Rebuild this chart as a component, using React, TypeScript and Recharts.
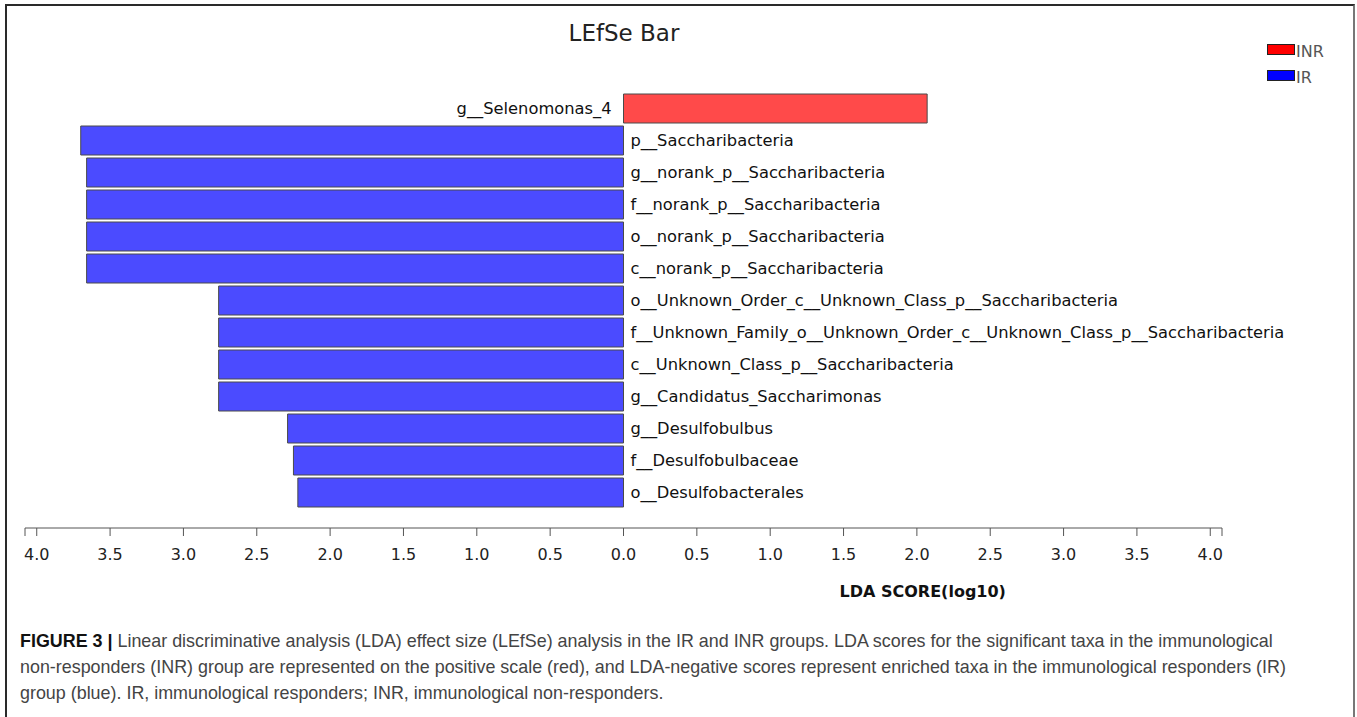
import React from "react";
import { BarChart, Bar, XAxis, YAxis, Cell, LabelList } from "recharts";

// taxa, top to bottom
const taxa = [
  "g__Selenomonas_4",
  "p__Saccharibacteria",
  "g__norank_p__Saccharibacteria",
  "f__norank_p__Saccharibacteria",
  "o__norank_p__Saccharibacteria",
  "c__norank_p__Saccharibacteria",
  "o__Unknown_Order_c__Unknown_Class_p__Saccharibacteria",
  "f__Unknown_Family_o__Unknown_Order_c__Unknown_Class_p__Saccharibacteria",
  "c__Unknown_Class_p__Saccharibacteria",
  "g__Candidatus_Saccharimonas",
  "g__Desulfobulbus",
  "f__Desulfobulbaceae",
  "o__Desulfobacterales",
];

// LDA score (log10); IR-enriched taxa are negative
const ldaScores = [2.07, -3.7, -3.66, -3.66, -3.66, -3.66, -2.76, -2.76, -2.76, -2.76, -2.29, -2.25, -2.22];

const tickValues = [-4, -3.5, -3, -2.5, -2, -1.5, -1, -0.5, 0, 0.5, 1, 1.5, 2, 2.5, 3, 3.5, 4];
const axisEnd = 4.08;

const groups = [
  { name: "INR", color: "#ff0000" },
  { name: "IR", color: "#0000ff" },
];

const barColors = { INR: "#ff4a4a", IR: "#4b4bff" };

const captionLines = [
  "Linear discriminative analysis (LDA) effect size (LEfSe) analysis in the IR and INR groups. LDA scores for the significant taxa in the immunological",
  "non-responders (INR) group are represented on the positive scale (red), and LDA-negative scores represent enriched taxa in the immunological responders (IR)",
  "group (blue). IR, immunological responders; INR, immunological non-responders.",
];

const data = taxa.map((name, i) => ({ name, lda: ldaScores[i] }));

const FONT = "'DejaVu Sans', sans-serif";

const TaxonLabel = (props: any) => {
  const { x, y, width, height, index } = props;
  const v = ldaScores[index];
  const zero = v < 0 ? Math.max(x, x + width) : Math.min(x, x + width);
  const neg = v < 0;
  return (
    <text
      x={neg ? zero + 7 : zero - 12}
      y={y + height / 2}
      textAnchor={neg ? "start" : "end"}
      dominantBaseline="central"
      fontFamily={FONT}
      fontSize={16.3}
      fill="#111"
    >
      {taxa[index]}
    </text>
  );
};

const AxisTitle = (props: any) => {
  const { x, y, width } = props.viewBox;
  return (
    <text
      x={x + width * 0.75}
      y={y + 63}
      textAnchor="middle"
      dominantBaseline="central"
      fontFamily={FONT}
      fontSize={16}
      fontWeight="bold"
      fill="#111"
    >
      LDA SCORE(log10)
    </text>
  );
};

export default function App() {
  return (
    <div
      style={{
        position: "absolute",
        left: 0,
        top: 0,
        width: 1357,
        height: 717,
        overflow: "hidden",
        background: "#fff",
      }}
    >
      <div
        style={{
          position: "absolute",
          left: 5,
          top: 4,
          width: 1346,
          height: 740,
          borderLeft: "2px solid #2a2a2a",
          borderTop: "2px solid #2a2a2a",
          borderRight: "2px solid #777",
        }}
      />
      <div
        style={{
          position: "absolute",
          left: 0,
          width: 1248,
          top: 20,
          textAlign: "center",
          fontFamily: FONT,
          fontSize: 23,
          color: "#222",
        }}
      >
        LEfSe Bar
      </div>
      <div style={{ position: "absolute", left: 1267, top: 37 }}>
        {groups.map((g) => (
          <div
            key={g.name}
            style={{ display: "flex", alignItems: "flex-start", height: 26, fontFamily: FONT, fontSize: 16, color: "#555" }}
          >
            <span
              style={{
                display: "inline-block",
                width: 26,
                height: 9,
                marginTop: 7,
                background: g.color,
                border: "1.5px solid #222",
                marginRight: 1,
              }}
            />
            <span style={{ marginTop: 5 }}>{g.name}</span>
          </div>
        ))}
      </div>
      <div style={{ position: "absolute", left: 0, top: 0 }}>
        <BarChart
          width={1357}
          height={608}
          data={data}
          layout="vertical"
          margin={{ top: 92, right: 135, bottom: 0, left: 25 }}
        >
          <XAxis
            type="number"
            domain={[-axisEnd, axisEnd]}
            ticks={[-axisEnd, ...tickValues, axisEnd]}
            interval={0}
            allowDataOverflow
            tickFormatter={(v: number) => (Math.abs(v) === axisEnd ? "" : Math.abs(v).toFixed(1))}
            tickSize={8}
            tickMargin={13}
            height={80}
            stroke="#555"
            tick={{ fill: "#222", fontSize: 16, fontFamily: FONT }}
            label={<AxisTitle />}
          />
          <YAxis type="category" dataKey="name" hide padding={{ top: 0, bottom: 20 }} />
          <Bar dataKey="lda" barSize={29} stroke="#4a4a4a" strokeWidth={1} isAnimationActive={false}>
            {data.map((d, i) => (
              <Cell key={i} fill={d.lda > 0 ? barColors.INR : barColors.IR} />
            ))}
            <LabelList dataKey="name" content={<TaxonLabel />} />
          </Bar>
        </BarChart>
      </div>
      <div
        style={{
          position: "absolute",
          left: 20,
          top: 628,
          fontFamily: "'Liberation Sans', Arial, sans-serif",
          fontSize: 17.9,
          lineHeight: "26px",
          color: "#444",
          whiteSpace: "nowrap",
        }}
      >
        {captionLines.map((line, i) => (
          <div key={i}>
            {i === 0 && <b style={{ color: "#111" }}>FIGURE 3 | </b>}
            {line}
          </div>
        ))}
      </div>
    </div>
  );
}
